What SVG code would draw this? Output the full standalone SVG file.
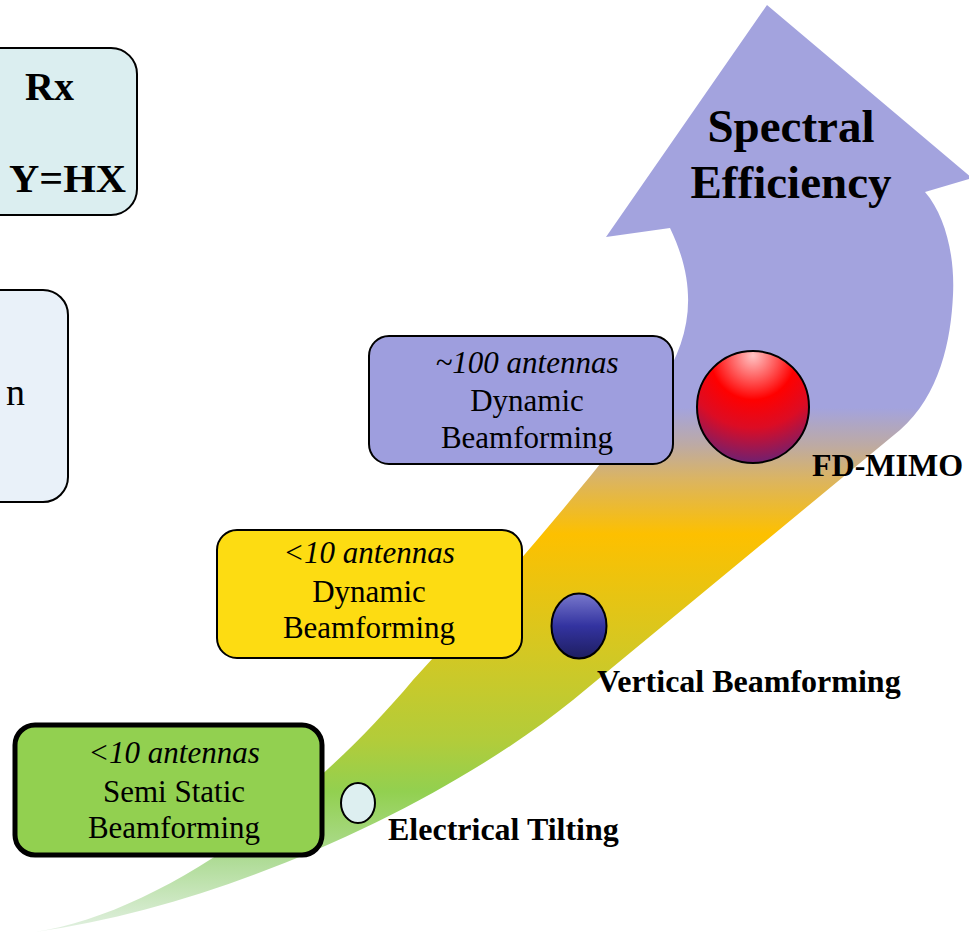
<svg xmlns="http://www.w3.org/2000/svg" width="969" height="937" viewBox="0 0 969 937">
  <style>
    .t { font-family: "Liberation Serif", "Times New Roman", serif; fill: #000; }
    .box { stroke: #000; stroke-width: 2; }
    .c { text-anchor: middle; font-size: 31px; }
    .i { font-style: italic; }
    .lbl { font-weight: bold; font-size: 32px; }
  </style>
  <defs>
    <linearGradient id="band" gradientUnits="userSpaceOnUse" x1="0" y1="0" x2="0" y2="937">
      <stop offset="0" stop-color="#A3A3DE"/>
      <stop offset="0.435" stop-color="#A3A3DE"/>
      <stop offset="0.475" stop-color="#BDAAA4"/>
      <stop offset="0.51" stop-color="#DAB464"/>
      <stop offset="0.57" stop-color="#FDC000"/>
      <stop offset="0.70" stop-color="#D2C824"/>
      <stop offset="0.79" stop-color="#B2CC3A"/>
      <stop offset="0.845" stop-color="#92D050"/>
      <stop offset="0.92" stop-color="#B0DC98"/>
      <stop offset="1" stop-color="#E6F2E8"/>
    </linearGradient>
    <radialGradient id="red" cx="0.5" cy="0.08" fx="0.5" fy="0.04" r="1">
      <stop offset="0" stop-color="#FFC4C4"/>
      <stop offset="0.38" stop-color="#FF0000"/>
      <stop offset="0.62" stop-color="#DC0C24"/>
      <stop offset="0.92" stop-color="#702070"/>
    </radialGradient>
    <linearGradient id="blue" x1="0" y1="0" x2="0" y2="1">
      <stop offset="0" stop-color="#7878CC"/>
      <stop offset="0.5" stop-color="#3333A0"/>
      <stop offset="1" stop-color="#1E1E60"/>
    </linearGradient>
  </defs>

  <g id="connectors">
    <path id="trend-arrow" fill="url(#band)" d="M 606,237 L 767,5 L 972,178 L 925,192 C 945,215 955,255 953,295 C 951,340 940,395 900,430 L 573,700 C 450,800 230,905 35,932 C 150,915 300,815 413,680 C 500,585 600,470 660,385 C 690,340 700,290 670,228 Z"/>
  </g>

  <g id="rx-box">
    <rect class="box" x="-40" y="48" width="177" height="167" rx="26" fill="#DBEEF0"/>
    <text class="t" x="25" y="100" font-size="40" font-weight="bold">Rx</text>
    <text class="t" x="9" y="192" font-size="41" font-weight="bold" textLength="117" lengthAdjust="spacingAndGlyphs">Y=HX</text>
  </g>

  <g id="partial-box">
    <rect class="box" x="-40" y="290" width="108" height="212" rx="25" fill="#E9F1F9"/>
    <text class="t" x="25" y="405" font-size="38" text-anchor="end">n</text>
  </g>

  <g id="title">
    <text class="t" x="791" y="142" font-size="47" font-weight="bold" text-anchor="middle">Spectral</text>
    <text class="t" x="791" y="198" font-size="47" font-weight="bold" text-anchor="middle">Efficiency</text>
  </g>

  <g id="box-100">
    <rect class="box" x="369" y="336" width="304" height="128" rx="20" fill="#9E9EDE"/>
    <text class="t c i" x="527" y="373">~100 antennas</text>
    <text class="t c" x="527" y="411">Dynamic</text>
    <text class="t c" x="527" y="448">Beamforming</text>
  </g>

  <g id="box-10-dyn">
    <rect class="box" x="217" y="530" width="305" height="128" rx="20" fill="#FDDC12"/>
    <text class="t c i" x="369" y="563">&lt;10 antennas</text>
    <text class="t c" x="369" y="602">Dynamic</text>
    <text class="t c" x="369" y="638">Beamforming</text>
  </g>

  <g id="box-10-static">
    <rect x="15" y="725" width="307" height="130" rx="20" fill="#92D050" stroke="#000" stroke-width="5"/>
    <text class="t c i" x="174" y="763">&lt;10 antennas</text>
    <text class="t c" x="174" y="802">Semi Static</text>
    <text class="t c" x="174" y="838">Beamforming</text>
  </g>

  <g id="fd-mimo">
    <circle cx="753" cy="407" r="56" fill="url(#red)" stroke="#000" stroke-width="2"/>
    <text class="t lbl" x="812" y="476">FD-MIMO</text>
  </g>

  <g id="vertical-bf">
    <ellipse cx="579" cy="626" rx="27.5" ry="32.5" fill="url(#blue)" stroke="#000" stroke-width="2"/>
    <text class="t lbl" x="597" y="692">Vertical Beamforming</text>
  </g>

  <g id="electrical-tilting">
    <ellipse cx="358" cy="803" rx="17" ry="20" fill="#DDEFF0" stroke="#000" stroke-width="2"/>
    <text class="t lbl" x="388" y="840">Electrical Tilting</text>
  </g>
</svg>
